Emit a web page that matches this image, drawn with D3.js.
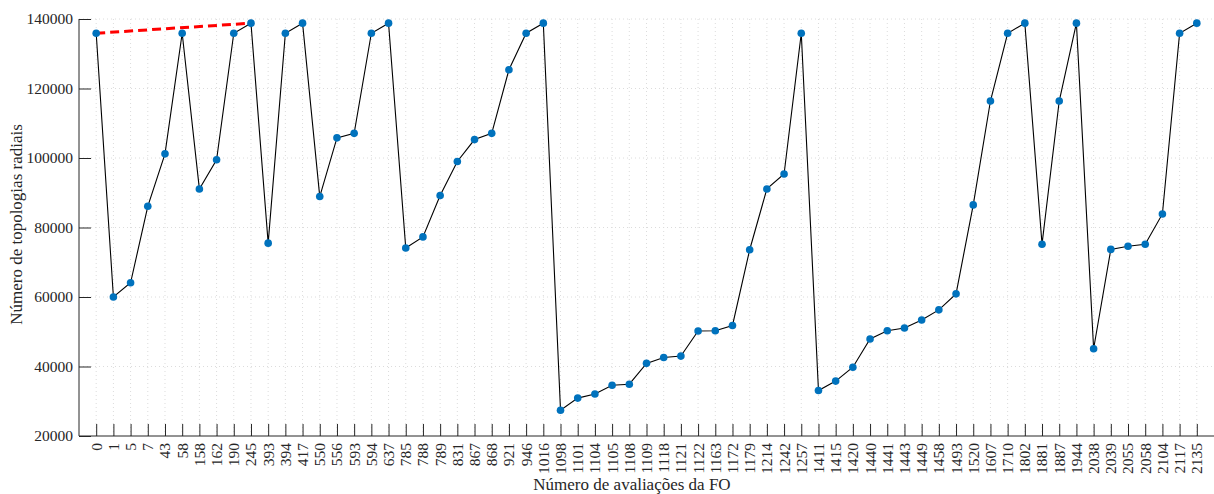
<!DOCTYPE html>
<html><head><meta charset="utf-8">
<script src="https://cdn.jsdelivr.net/npm/d3@7"></script>
<style>body{margin:0;background:#fff}svg{display:block}svg text{font-family:"Liberation Serif","Times New Roman",serif !important;fill:#262626}</style>
</head><body><svg id="c" width="1214" height="494"></svg>
<script>
const categories = ["0","1","5","7","43","58","158","162","190","245","393","394","417","550","556","593","594","637","785","788","789","831","867","868","921","946","1016","1098","1101","1104","1105","1108","1109","1118","1121","1122","1163","1172","1179","1214","1242","1257","1411","1415","1420","1440","1441","1443","1449","1458","1493","1520","1607","1710","1802","1881","1887","1944","2038","2039","2055","2058","2104","2117","2135"];
const values = [135900,60000,64100,86100,101200,135900,91100,99500,135900,138800,75500,135900,138800,88900,105800,107100,135900,138800,74100,77300,89200,99000,105300,107100,125400,135900,138800,27400,30900,32100,34600,34900,40900,42600,43000,50200,50300,51800,73600,91100,95400,135900,33100,35800,39800,47900,50300,51100,53400,56300,60900,86500,116400,135900,138800,75200,116400,138800,45100,73700,74600,75200,83900,135900,138800];
const yTicks = [20000,40000,60000,80000,100000,120000,140000];
const highlightFrom = "0", highlightTo = "245";
const xTitle = "Número de avaliações da FO";
const yTitle = "Número de topologias radiais";

const svg = d3.select("#c");
const L = 79, R = 1214, T = 19, B = 436;
const x = d3.scaleLinear().domain([-1, categories.length]).range([L, R]);
const y = d3.scaleLinear().domain([20000, 140000]).range([B, T]);
const idx = categories.map((c,i)=>i);

// grid
const g = svg.append("g");
g.selectAll(".vg").data(idx).join("line")
  .attr("x1", d=>x(d)).attr("x2", d=>x(d)).attr("y1", T).attr("y2", B)
  .attr("stroke", "#dcdcdc").attr("stroke-width", 1).attr("stroke-dasharray", "1,3");
g.selectAll(".hg").data(yTicks.slice(1)).join("line")
  .attr("x1", L).attr("x2", R).attr("y1", d=>y(d)).attr("y2", d=>y(d))
  .attr("stroke", "#dcdcdc").attr("stroke-width", 1).attr("stroke-dasharray", "1,3");

// axes
const yAxis = d3.axisLeft(y).tickValues(yTicks).tickSize(-12).tickPadding(6).tickFormat(d3.format("d"));
const ya = svg.append("g").attr("transform", `translate(${L},0)`).call(yAxis).attr("font-family", null).attr("font-size", null);
ya.select(".domain").attr("stroke", "#262626").attr("d", `M0,${B}V${T}`);
ya.selectAll(".tick line").attr("stroke", "#262626");
ya.selectAll("text").style("font-size", "15.5px").attr("fill", "#262626");

const xAxis = d3.axisBottom(x).tickValues(idx).tickSize(-12).tickFormat(i=>categories[i]);
const xa = svg.append("g").attr("transform", `translate(0,${B})`).call(xAxis).attr("font-family", null).attr("font-size", null);
xa.select(".domain").attr("stroke", "#262626").attr("d", `M${L},0H${R}`);
xa.selectAll(".tick line").attr("stroke", "#262626");
xa.selectAll("text").style("font-size", "15.5px").attr("fill", "#262626")
  .attr("text-anchor", "end").attr("dy", "0.32em").attr("transform", "translate(0,7) rotate(-90)").attr("x", 0).attr("y", 0);

// line
const line = d3.line().x((d,i)=>x(i)).y(d=>y(d));
svg.append("path").datum(values).attr("d", line).attr("fill", "none").attr("stroke", "#000").attr("stroke-width", 1.1);

// highlight
const i0 = categories.indexOf(highlightFrom), i1 = categories.indexOf(highlightTo);
svg.append("line").attr("x1", x(i0)).attr("y1", y(values[i0])).attr("x2", x(i1)).attr("y2", y(values[i1]))
  .attr("stroke", "#ff0000").attr("stroke-width", 3).attr("stroke-dasharray", "9,5");

// markers
svg.selectAll(".pt").data(values).join("circle")
  .attr("cx", (d,i)=>x(i)).attr("cy", d=>y(d)).attr("r", 3.8).attr("fill", "#0072BD");

// titles
svg.append("text").attr("x", 632).attr("y", 490).attr("text-anchor", "middle").style("font-size", "17px").text(xTitle);
svg.append("text").attr("transform", `translate(22,${(T+B)/2 - 3}) rotate(-90)`).attr("text-anchor", "middle").style("font-size", "17px").text(yTitle);
</script></body></html>
